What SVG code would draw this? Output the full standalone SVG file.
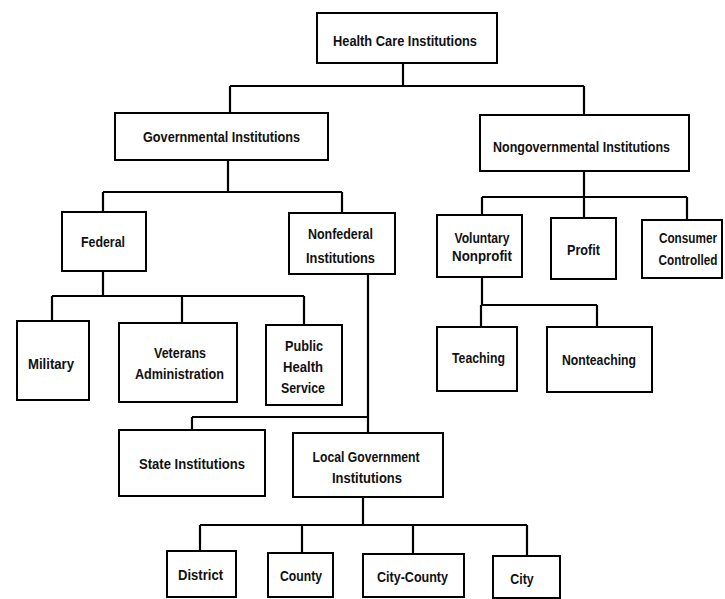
<svg xmlns="http://www.w3.org/2000/svg" width="725" height="599" viewBox="0 0 725 599">
<style>
  .box { fill: #fff; stroke: #000; stroke-width: 2; }
  .lbl { font-family: "Liberation Sans", Arial, sans-serif; font-size: 15.5px; font-weight: bold; fill: #111; text-anchor: middle; }
  .con path { fill: none; stroke: #000; stroke-width: 2.2; }
</style>
<rect width="725" height="599" fill="#fff"/>
<g id="connectors" class="con">
  <path d="M403,63 V86 M230,86 H584 M230,86 V113 M584,86 V115"/>
  <path d="M228,160 V192 M103,192 H342 M103,192 V212 M342,192 V213"/>
  <path d="M103,271 V296 M52,296 H304 M52,296 V321 M182,296 V323 M304,296 V325"/>
  <path d="M368,274 V433 M192,417 H368 M192,417 V430"/>
  <path d="M363,497 V525 M200,525 H527 M200,525 V551 M302,525 V553 M413,525 V554 M527,525 V556"/>
  <path d="M584,171 V218 M482,197 H687 M482,197 V215 M687,197 V220"/>
  <path d="M482,277 V305 M481,305 H597 M481,305 V327 M597,305 V327"/>
</g>
<g id="health-care">
  <rect class="box" x="317" y="13" width="180" height="50"/>
  <text class="lbl" x="405" y="46" textLength="144" lengthAdjust="spacingAndGlyphs">Health Care Institutions</text>
</g>
<g id="governmental">
  <rect class="box" x="115" y="113" width="213" height="47"/>
  <text class="lbl" x="221.5" y="142" textLength="157" lengthAdjust="spacingAndGlyphs">Governmental Institutions</text>
</g>
<g id="nongovernmental">
  <rect class="box" x="480" y="115" width="209" height="56"/>
  <text class="lbl" x="581.5" y="152" textLength="177" lengthAdjust="spacingAndGlyphs">Nongovernmental Institutions</text>
</g>
<g id="federal">
  <rect class="box" x="62" y="212" width="84" height="59"/>
  <text class="lbl" x="103" y="247" textLength="44" lengthAdjust="spacingAndGlyphs">Federal</text>
</g>
<g id="nonfederal">
  <rect class="box" x="289" y="213" width="106" height="61"/>
  <text class="lbl" x="340.5" y="239" textLength="65" lengthAdjust="spacingAndGlyphs">Nonfederal</text>
  <text class="lbl" x="340.5" y="263" textLength="69" lengthAdjust="spacingAndGlyphs">Institutions</text>
</g>
<g id="voluntary-nonprofit">
  <rect class="box" x="437" y="215" width="85" height="62"/>
  <text class="lbl" x="482" y="243" textLength="55" lengthAdjust="spacingAndGlyphs">Voluntary</text>
  <text class="lbl" x="482" y="261" textLength="60" lengthAdjust="spacingAndGlyphs">Nonprofit</text>
</g>
<g id="profit">
  <rect class="box" x="551" y="218" width="65" height="61"/>
  <text class="lbl" x="583.5" y="255" textLength="33" lengthAdjust="spacingAndGlyphs">Profit</text>
</g>
<g id="consumer-controlled">
  <rect class="box" x="642" y="220" width="80" height="58"/>
  <text class="lbl" transform="translate(688,243) scale(0.76,1)" x="0" y="0">Consumer</text>
  <text class="lbl" transform="translate(688,265) scale(0.76,1)" x="0" y="0">Controlled</text>
</g>
<g id="military">
  <rect class="box" x="17" y="321" width="72" height="79"/>
  <text class="lbl" x="51" y="369" textLength="46" lengthAdjust="spacingAndGlyphs">Military</text>
</g>
<g id="veterans">
  <rect class="box" x="119" y="323" width="118" height="79"/>
  <text class="lbl" x="180" y="358" textLength="52" lengthAdjust="spacingAndGlyphs">Veterans</text>
  <text class="lbl" x="179.5" y="379" textLength="89" lengthAdjust="spacingAndGlyphs">Administration</text>
</g>
<g id="public-health">
  <rect class="box" x="266" y="325" width="76" height="80"/>
  <text class="lbl" x="304" y="351" textLength="38" lengthAdjust="spacingAndGlyphs">Public</text>
  <text class="lbl" x="303" y="372" textLength="40" lengthAdjust="spacingAndGlyphs">Health</text>
  <text class="lbl" x="303" y="393" textLength="44" lengthAdjust="spacingAndGlyphs">Service</text>
</g>
<g id="teaching">
  <rect class="box" x="437" y="327" width="80" height="64"/>
  <text class="lbl" x="478.5" y="363" textLength="53" lengthAdjust="spacingAndGlyphs">Teaching</text>
</g>
<g id="nonteaching">
  <rect class="box" x="547" y="327" width="105" height="65"/>
  <text class="lbl" x="599" y="365" textLength="74" lengthAdjust="spacingAndGlyphs">Nonteaching</text>
</g>
<g id="state">
  <rect class="box" x="119" y="430" width="146" height="66"/>
  <text class="lbl" x="192" y="469" textLength="106" lengthAdjust="spacingAndGlyphs">State Institutions</text>
</g>
<g id="local">
  <rect class="box" x="293" y="433" width="150" height="64"/>
  <text class="lbl" x="366" y="462" textLength="107" lengthAdjust="spacingAndGlyphs">Local Government</text>
  <text class="lbl" x="367" y="483" textLength="70" lengthAdjust="spacingAndGlyphs">Institutions</text>
</g>
<g id="district">
  <rect class="box" x="167" y="551" width="69" height="46"/>
  <text class="lbl" x="200.5" y="580" textLength="45" lengthAdjust="spacingAndGlyphs">District</text>
</g>
<g id="county">
  <rect class="box" x="268" y="553" width="65" height="44"/>
  <text class="lbl" x="301" y="581" textLength="42" lengthAdjust="spacingAndGlyphs">County</text>
</g>
<g id="city-county">
  <rect class="box" x="363" y="554" width="101" height="43"/>
  <text class="lbl" x="412.5" y="582" textLength="71" lengthAdjust="spacingAndGlyphs">City-County</text>
</g>
<g id="city">
  <rect class="box" x="493" y="556" width="67" height="42"/>
  <text class="lbl" transform="translate(522,584) scale(0.8,1)" x="0" y="0">City</text>
</g>
</svg>
